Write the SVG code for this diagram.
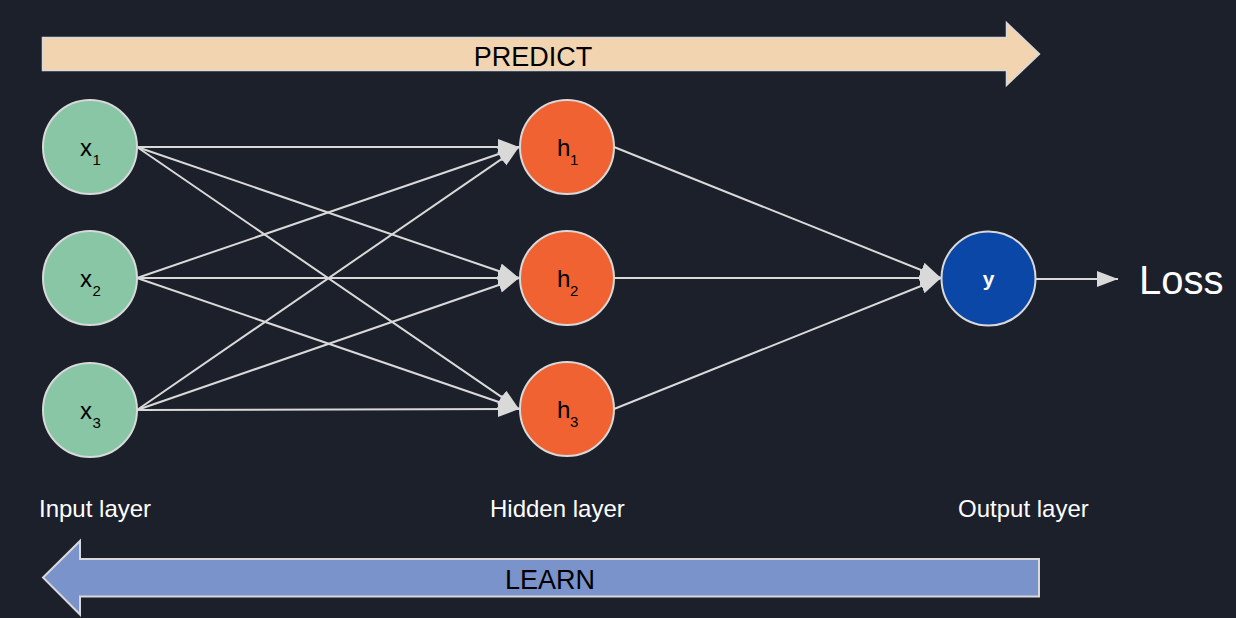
<svg xmlns="http://www.w3.org/2000/svg" width="1236" height="618" viewBox="0 0 1236 618">
<style>
.lbl{font-family:"Liberation Sans",Arial,sans-serif;font-size:24px;fill:#ffffff}
.nt{font-family:"Liberation Sans",Arial,sans-serif;font-size:24px;fill:#000000}
.sub{font-family:"Liberation Sans",Arial,sans-serif;font-size:15px;fill:#000000}
.edge{stroke:#d9d9d9;stroke-width:2;fill:none}
.in{fill:#88c6a6;stroke:#d9d9d9;stroke-width:2}
.hid{fill:#f06232;stroke:#d9d9d9;stroke-width:2}
.out{fill:#0b47a6;stroke:#d9d9d9;stroke-width:2}
.big{font-family:"Liberation Sans",Arial,sans-serif;font-size:27px;fill:#000000}
</style>
<defs>
<marker id="ah" markerUnits="userSpaceOnUse" markerWidth="22" markerHeight="18" refX="21" refY="8" orient="auto">
<path d="M0,0 L21,8 L0,16 z" fill="#d9d9d9"/>
</marker>
</defs>
<rect width="1236" height="618" fill="#1c202b"/>
<g id="predict">
<path d="M42.5,37.5 H1006.5 V22.5 L1039.5,54 L1006.5,85.5 V70.5 H42.5 Z" fill="#f2d4b0" stroke="#d9d9d9" stroke-width="1.5"/>
<text class="big" x="533" y="66" text-anchor="middle">PREDICT</text>
</g>
<g id="learn">
<path d="M1039,559 H80 V541 L43,577.5 L80,614.5 V596.5 H1039 Z" fill="#7b93cb" stroke="#d9d9d9" stroke-width="2"/>
<text class="big" x="550" y="588.5" text-anchor="middle">LEARN</text>
</g>
<g id="connectors">
<line class="edge" x1="137" y1="147" x2="519" y2="147" marker-end="url(#ah)"/>
<line class="edge" x1="137" y1="147" x2="519" y2="278" marker-end="url(#ah)"/>
<line class="edge" x1="137" y1="147" x2="519" y2="409" marker-end="url(#ah)"/>
<line class="edge" x1="137" y1="278" x2="519" y2="147" marker-end="url(#ah)"/>
<line class="edge" x1="137" y1="278" x2="519" y2="278" marker-end="url(#ah)"/>
<line class="edge" x1="137" y1="278" x2="519" y2="409" marker-end="url(#ah)"/>
<line class="edge" x1="137" y1="410" x2="519" y2="147" marker-end="url(#ah)"/>
<line class="edge" x1="137" y1="410" x2="519" y2="278" marker-end="url(#ah)"/>
<line class="edge" x1="137" y1="410" x2="519" y2="409" marker-end="url(#ah)"/>
<line class="edge" x1="614" y1="147" x2="941" y2="278" marker-end="url(#ah)"/>
<line class="edge" x1="614" y1="278" x2="941" y2="278" marker-end="url(#ah)"/>
<line class="edge" x1="614" y1="409" x2="941" y2="278" marker-end="url(#ah)"/>
<line class="edge" x1="1036" y1="279" x2="1118" y2="279" marker-end="url(#ah)"/>
</g>
<g id="x1">
<circle class="in" cx="90" cy="147" r="47"/>
<text class="nt" x="80" y="156">x</text><text class="sub" x="92.5" y="165">1</text>
</g>
<g id="x2">
<circle class="in" cx="90" cy="278" r="47"/>
<text class="nt" x="80" y="287">x</text><text class="sub" x="92.5" y="296">2</text>
</g>
<g id="x3">
<circle class="in" cx="90" cy="410" r="47"/>
<text class="nt" x="80" y="419">x</text><text class="sub" x="92.5" y="428">3</text>
</g>
<g id="h1">
<circle class="hid" cx="567" cy="147" r="47"/>
<text class="nt" x="557" y="156">h</text><text class="sub" x="570" y="165">1</text>
</g>
<g id="h2">
<circle class="hid" cx="567" cy="278" r="47"/>
<text class="nt" x="557" y="287">h</text><text class="sub" x="570" y="296">2</text>
</g>
<g id="h3">
<circle class="hid" cx="567" cy="409" r="47"/>
<text class="nt" x="557" y="418">h</text><text class="sub" x="570" y="427">3</text>
</g>
<g id="y">
<circle class="out" cx="988.5" cy="278.5" r="47"/>
<text x="988.5" y="286" text-anchor="middle" font-family="Liberation Sans, Arial, sans-serif" font-size="21" font-weight="bold" fill="#ffffff">y</text>
</g>
<g id="loss">
<text x="1139" y="294" font-family="Liberation Sans, Arial, sans-serif" font-size="40" fill="#ffffff">Loss</text>
</g>
<g id="labels">
<text class="lbl" x="39" y="516.5">Input layer</text>
<text class="lbl" x="490" y="516.5">Hidden layer</text>
<text class="lbl" x="958" y="516.5">Output layer</text>
</g>
</svg>
